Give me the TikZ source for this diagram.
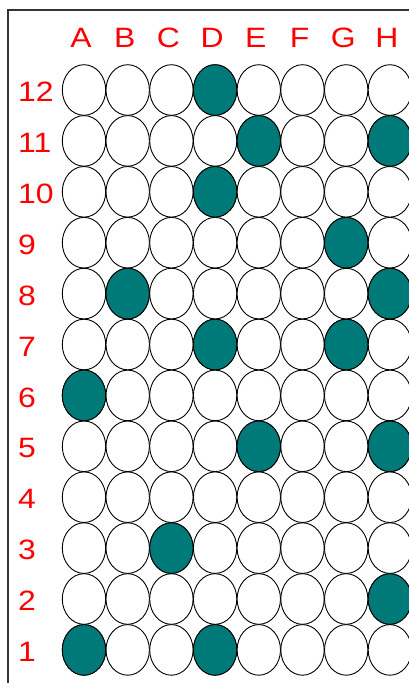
\documentclass[tikz,border=0pt]{standalone}
\usepackage{fontspec}
\setmainfont{Liberation Sans}
\usepackage{graphicx}
\usepackage{tikz}
\usetikzlibrary{shapes.geometric}
\definecolor{wellfill}{HTML}{007A78}
\definecolor{labred}{HTML}{FF0000}
\definecolor{frameline}{HTML}{333333}
\newcommand{\wide}[1]{\scalebox{1.14}[1]{#1}}
\tikzset{
  well/.style={ellipse, draw=black, line width=0.9pt, fill=white, inner sep=0pt, minimum width=43.4pt, minimum height=50.6pt},
  wellon/.style={well, fill=wellfill},
  lab/.style={text=labred, inner sep=0pt, font=\fontsize{28}{28}\selectfont},
  rowlab/.style={lab, anchor=west},
  frame/.style={draw=frameline, line width=1.2pt}
}

\begin{document}
\begin{tikzpicture}[x=1pt,y=-1pt]
  \useasboundingbox (0,0) rectangle (409,683);

  % frame (left and top edges only)
  \coordinate (fbl) at (8,683);
  \coordinate (ftl) at (8,10);
  \coordinate (ftr) at (409,10);
  \draw[frame] (fbl) -- (ftl) -- (ftr);

  % column letters
  \foreach \c/\l in {1/A,2/B,3/C,4/D,5/E,6/F,7/G,8/H}
    \node[lab] (col-\l) at ({84+43.7*(\c-1)-3},38) {\wide{\l}};

  % row numbers
  \foreach \r in {1,...,12}
    \node[rowlab] (row-\r) at (18,{90+50.9*(12-\r)+2}) {\wide{\r}};

  % empty wells
  \foreach \c in {1,...,8}
    \foreach \r in {1,...,12}
      \node[well] (w-\c-\r) at ({84+43.7*(\c-1)},{90+50.9*(12-\r)}) {};

  % filled wells
  \foreach \c/\r in {4/12,5/11,8/11,4/10,7/9,2/8,8/8,4/7,7/7,1/6,5/5,8/5,3/3,8/2,1/1,4/1}
    \node[wellon] (f-\c-\r) at (w-\c-\r) {};

\end{tikzpicture}
\end{document}
